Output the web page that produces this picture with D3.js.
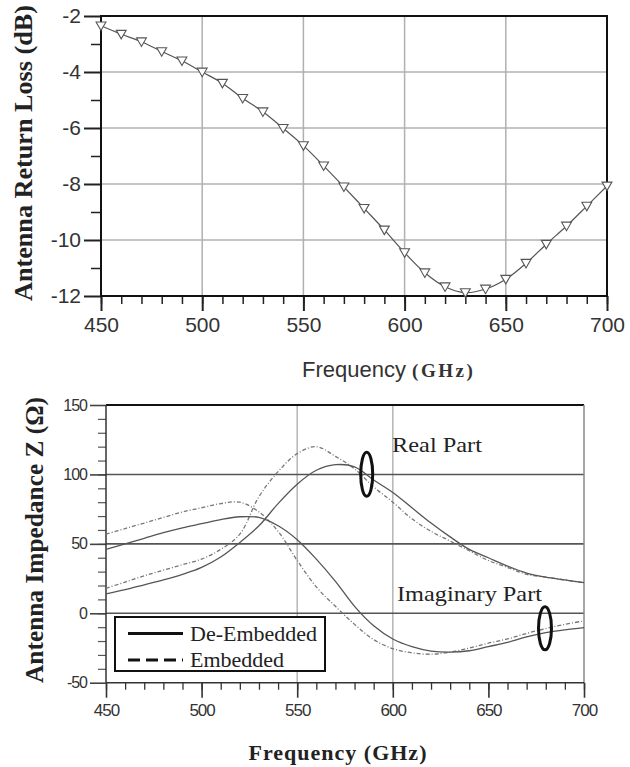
<!DOCTYPE html>
<html>
<head>
<meta charset="utf-8">
<script src="https://cdn.jsdelivr.net/npm/d3@7/dist/d3.min.js"></script>
<style>
  body { margin: 0; background: #fff; }
  .sans { font-family: "Liberation Sans", Arial, sans-serif; }
  .serif { font-family: "Liberation Serif", "Times New Roman", serif; }
</style>
</head>
<body>
<svg id="chart" width="630" height="767"></svg>
<script>
// ---- data ----
var freqRL = [450,460,470,480,490,500,510,520,530,540,550,560,570,580,590,600,610,620,630,640,650,660,670,680,690,700];
var returnLoss = [-2.35,-2.65,-2.92,-3.27,-3.6,-4.0,-4.4,-4.94,-5.42,-6.01,-6.63,-7.35,-8.1,-8.87,-9.64,-10.45,-11.17,-11.67,-11.88,-11.75,-11.4,-10.83,-10.15,-9.5,-8.79,-8.07];

var freqZ = [450,460,470,480,490,500,510,520,530,540,550,560,570,580,590,600,610,620,630,640,650,660,670,680,690,700];
var realDeEmb = [14,17,20.5,24,28,33,40.5,51,63,79,93,103,107,105.5,96,87,76,65,55,46,40,34,29,26,24,22];
var realEmb   = [18,22.5,27,31,35,39,46,57,84,102,115,120,113,104,91,80,68,59,52,45,38,33,28,26,24,22];
var imagDeEmb = [46,50,54,58,61.5,64.5,67.5,69.5,69,63,53,39,23,5,-9,-18.5,-24,-27.2,-28,-27,-24,-21,-17,-14,-12,-10.4];
var imagEmb   = [57,61,65,69,73,76,79,80,73,59,38,19,5,-8,-19,-25.5,-28.5,-29.5,-28,-25,-21.5,-18.5,-14.5,-11,-8,-5.5];

var xTicks = [450,500,550,600,650,700];
var rlTicks = [-2,-4,-6,-8,-10,-12];
var zTicks = [150,100,50,0,-50];
var legendLabels = ["De-Embedded","Embedded"];

var svg = d3.select("#chart");
var plain = function(d) { return String(d); };

// ================= Top: return loss =================
var x1 = d3.scaleLinear().domain([450,700]).range([101,607]);
var y1 = d3.scaleLinear().domain([-12,-2]).range([296,16]);

var topG = svg.append("g");

// grid
topG.selectAll(".vg").data(xTicks.slice(1,-1)).enter().append("line")
  .attr("x1", d => x1(d)).attr("x2", d => x1(d))
  .attr("y1", y1(-2)).attr("y2", y1(-12))
  .attr("stroke", "#b0b0b0").attr("stroke-width", 1.5);
topG.selectAll(".hg").data(rlTicks.slice(1,-1)).enter().append("line")
  .attr("x1", x1(450)).attr("x2", x1(700))
  .attr("y1", d => y1(d)).attr("y2", d => y1(d))
  .attr("stroke", "#b0b0b0").attr("stroke-width", 1.5);

// minor + major ticks
topG.append("g").attr("transform", "translate(0," + y1(-12) + ")")
  .call(d3.axisBottom(x1).tickValues(d3.range(450, 701, 10)).tickSize(8).tickFormat("").tickSizeOuter(0))
  .call(g => g.select(".domain").remove())
  .selectAll("line").attr("stroke", "#222").attr("stroke-width", 1.5);
topG.append("g").attr("transform", "translate(0," + y1(-12) + ")")
  .call(d3.axisBottom(x1).tickValues(xTicks).tickSize(15).tickPadding(6).tickFormat(plain).tickSizeOuter(0))
  .call(g => g.select(".domain").remove())
  .call(g => g.selectAll("line").attr("stroke", "#222").attr("stroke-width", 2))
  .call(g => g.selectAll("text").attr("class", "sans").attr("font-size", 21).attr("fill", "#333"));
topG.append("g").attr("transform", "translate(" + x1(450) + ",0)")
  .call(d3.axisLeft(y1).tickValues([-3,-5,-7,-9,-11]).tickSize(10).tickFormat("").tickSizeOuter(0))
  .call(g => g.select(".domain").remove())
  .selectAll("line").attr("stroke", "#222").attr("stroke-width", 1.5);
topG.append("g").attr("transform", "translate(" + x1(450) + ",0)")
  .call(d3.axisLeft(y1).tickValues(rlTicks).tickSize(17).tickPadding(3).tickFormat(plain).tickSizeOuter(0))
  .call(g => g.select(".domain").remove())
  .call(g => g.selectAll("line").attr("stroke", "#222").attr("stroke-width", 2))
  .call(g => g.selectAll("text").attr("class", "sans").attr("font-size", 21).attr("fill", "#333"));

// frame
topG.append("rect").attr("x", x1(450)).attr("y", y1(-2))
  .attr("width", x1(700) - x1(450)).attr("height", y1(-12) - y1(-2))
  .attr("fill", "none").attr("stroke", "#111").attr("stroke-width", 2);

// curve and markers
var rlLine = d3.line().x((d, i) => x1(freqRL[i])).y(d => y1(d)).curve(d3.curveCatmullRom.alpha(0.5));
topG.append("path").datum(returnLoss).attr("d", rlLine)
  .attr("fill", "none").attr("stroke", "#555").attr("stroke-width", 1.2);
topG.selectAll(".mk").data(returnLoss).enter().append("path")
  .attr("d", d3.symbol(d3.symbolTriangle).size(42))
  .attr("transform", (d, i) => "translate(" + x1(freqRL[i]) + "," + (y1(d) - 1) + ") rotate(180)")
  .attr("fill", "#fff").attr("stroke", "#555").attr("stroke-width", 1.1);

// titles
topG.append("text").attr("transform", "translate(32,153) rotate(-90)")
  .attr("class", "serif").attr("text-anchor", "middle")
  .attr("font-size", 26).attr("font-weight", "bold").attr("fill", "#222")
  .attr("textLength", 296).attr("lengthAdjust", "spacingAndGlyphs")
  .text("Antenna Return Loss (dB)");
var xt = topG.append("text").attr("x", 302).attr("y", 377).attr("fill", "#333");
xt.append("tspan").attr("class", "sans").attr("font-size", 22).text("Frequency ");
xt.append("tspan").attr("class", "serif").attr("font-size", 19).attr("font-weight", "bold")
  .attr("letter-spacing", 2.5).text("(GHz)");

// ================= Bottom: impedance =================
var x2 = d3.scaleLinear().domain([450,700]).range([106,584]);
var y2 = d3.scaleLinear().domain([-50,150]).range([682.7,405]);

var bot = svg.append("g");

bot.selectAll(".vg").data([550,600]).enter().append("line")
  .attr("x1", d => x2(d)).attr("x2", d => x2(d))
  .attr("y1", y2(150)).attr("y2", y2(-50))
  .attr("stroke", "#b5b5b5").attr("stroke-width", 1.5);
bot.selectAll(".hg").data([100,50,0]).enter().append("line")
  .attr("x1", x2(450)).attr("x2", x2(700))
  .attr("y1", d => y2(d)).attr("y2", d => y2(d))
  .attr("stroke", "#555").attr("stroke-width", 1.6);

bot.append("g").attr("transform", "translate(0," + y2(-50) + ")")
  .call(d3.axisBottom(x2).tickValues(d3.range(450, 701, 10)).tickSize(7).tickFormat("").tickSizeOuter(0))
  .call(g => g.select(".domain").remove())
  .selectAll("line").attr("stroke", "#333").attr("stroke-width", 1.3);
bot.append("g").attr("transform", "translate(0," + y2(-50) + ")")
  .call(d3.axisBottom(x2).tickValues(xTicks).tickSize(15).tickPadding(6).tickFormat(plain).tickSizeOuter(0))
  .call(g => g.select(".domain").remove())
  .call(g => g.selectAll("line").attr("stroke", "#333").attr("stroke-width", 1.6))
  .call(g => g.selectAll("text").attr("class", "sans").attr("font-size", 17)
    .attr("letter-spacing", -1).attr("fill", "#333"));
bot.append("g").attr("transform", "translate(" + x2(450) + ",0)")
  .call(d3.axisLeft(y2).tickValues(d3.range(-40, 150, 10)).tickSize(8).tickFormat("").tickSizeOuter(0))
  .call(g => g.select(".domain").remove())
  .selectAll("line").attr("stroke", "#555").attr("stroke-width", 1.2);
bot.append("g").attr("transform", "translate(" + x2(450) + ",0)")
  .call(d3.axisLeft(y2).tickValues(zTicks).tickSize(16).tickPadding(3).tickFormat(plain).tickSizeOuter(0))
  .call(g => g.select(".domain").remove())
  .call(g => g.selectAll("line").attr("stroke", "#444").attr("stroke-width", 1.6))
  .call(g => g.selectAll("text").attr("class", "sans").attr("font-size", 16)
    .attr("letter-spacing", -1).attr("fill", "#333"));

// frame
bot.append("line").attr("x1", x2(450)).attr("x2", x2(700)).attr("y1", y2(150)).attr("y2", y2(150))
  .attr("stroke", "#111").attr("stroke-width", 2);
bot.append("line").attr("x1", x2(700)).attr("x2", x2(700)).attr("y1", y2(150)).attr("y2", y2(-50))
  .attr("stroke", "#888").attr("stroke-width", 1.5);
bot.append("line").attr("x1", x2(450)).attr("x2", x2(450)).attr("y1", y2(150)).attr("y2", y2(-50))
  .attr("stroke", "#333").attr("stroke-width", 1.5);
bot.append("line").attr("x1", x2(450)).attr("x2", x2(700)).attr("y1", y2(-50)).attr("y2", y2(-50))
  .attr("stroke", "#333").attr("stroke-width", 1.5);

// curves
var zLine = d3.line().x((d, i) => x2(freqZ[i])).y(d => y2(d)).curve(d3.curveCatmullRom.alpha(0.5));
var series = [
  { v: realEmb, dash: "4,2,1,2", col: "#777" },
  { v: imagEmb, dash: "4,2,1,2", col: "#777" },
  { v: realDeEmb, dash: null, col: "#555" },
  { v: imagDeEmb, dash: null, col: "#555" }
];
series.forEach(function(s) {
  bot.append("path").datum(s.v).attr("d", zLine)
    .attr("fill", "none").attr("stroke", s.col).attr("stroke-width", 1.3)
    .attr("stroke-dasharray", s.dash);
});

// annotations
bot.append("text").attr("x", 392).attr("y", 452).attr("class", "serif")
  .attr("font-size", 22).attr("fill", "#222")
  .attr("textLength", 90).attr("lengthAdjust", "spacingAndGlyphs").text("Real Part");
bot.append("ellipse").attr("cx", 366.7).attr("cy", 474.3).attr("rx", 6).attr("ry", 22)
  .attr("fill", "none").attr("stroke", "#111").attr("stroke-width", 3);
bot.append("text").attr("x", 397).attr("y", 601).attr("class", "serif")
  .attr("font-size", 22).attr("fill", "#222")
  .attr("textLength", 145).attr("lengthAdjust", "spacingAndGlyphs").text("Imaginary Part");
bot.append("ellipse").attr("cx", 545).attr("cy", 628.3).attr("rx", 6.5).attr("ry", 21.5)
  .attr("fill", "none").attr("stroke", "#111").attr("stroke-width", 3);

// legend
var lg = bot.append("g");
lg.append("rect").attr("x", 115).attr("y", 617).attr("width", 210).attr("height", 54)
  .attr("fill", "#fff").attr("stroke", "#111").attr("stroke-width", 2);
legendLabels.forEach(function(lab, i) {
  var yy = 633.5 + i * 26.5;
  lg.append("line").attr("x1", 128).attr("x2", 183).attr("y1", yy).attr("y2", yy)
    .attr("stroke", "#111").attr("stroke-width", 3)
    .attr("stroke-dasharray", i === 1 ? "12,6" : null);
  lg.append("text").attr("x", 190).attr("y", yy + 7).attr("class", "serif")
    .attr("font-size", 22).attr("fill", "#222").text(lab);
});

// titles
bot.append("text").attr("transform", "translate(43,540) rotate(-90)")
  .attr("class", "serif").attr("text-anchor", "middle")
  .attr("font-size", 26).attr("font-weight", "bold").attr("fill", "#222")
  .attr("textLength", 286).attr("lengthAdjust", "spacingAndGlyphs")
  .text("Antenna Impedance Z (\u03A9)");
bot.append("text").attr("x", 338).attr("y", 760).attr("class", "serif")
  .attr("text-anchor", "middle").attr("font-size", 22).attr("font-weight", "bold")
  .attr("letter-spacing", 1).attr("fill", "#222").text("Frequency (GHz)");
</script>
</body>
</html>
